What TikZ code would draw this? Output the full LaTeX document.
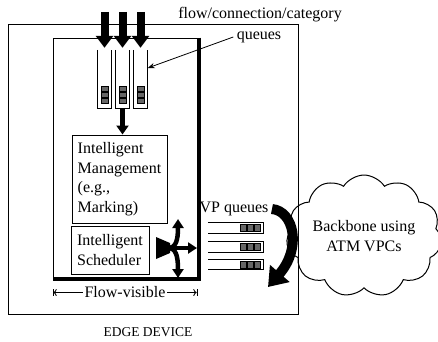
\documentclass[tikz,border=0pt]{standalone}
\usepackage{fontspec}
\setmainfont{Liberation Serif}
\usetikzlibrary{positioning, calc, arrows.meta, shapes.symbols}

\begin{document}
\begin{tikzpicture}[
    x=1pt, y=-1pt,
    every node/.style={font=\fontsize{16}{19.5}\selectfont},
    box/.style={draw=black, line width=1pt},
    textbox/.style={draw=black, line width=1pt, align=left, inner sep=0pt},
    queuecol/.style={minimum width=14pt, minimum height=58pt, inner sep=0pt},
    vpq/.style={minimum width=55pt, minimum height=10pt, inner sep=0pt},
    packet/.style={draw=black, fill=black!60, line width=0.8pt},
    inarrow/.style={line width=8pt, -{Triangle[width=17pt,length=12pt]}},
    smallarrow/.style={line width=5pt, -{Triangle[width=12pt,length=9pt]}},
    forkarrow/.style={line width=4.5pt, -{Triangle[width=11pt,length=9pt]}},
    curlarrow/.style={line width=10pt, -{Triangle[width=25pt,length=18pt]}},
    leader/.style={line width=0.8pt, -{Stealth[length=7pt]}}
]
\useasboundingbox (0,0) rectangle (438,341);

%=== EDGE DEVICE: outer box and flow-visible part ===
\node[box, minimum width=290pt, minimum height=290pt] (device) at (153,169) {};
\node[box, minimum width=144pt, minimum height=239pt] (visible) at (125,157.5) {};
% shadow on the flow-visible box
\draw[line width=3pt] ([xshift=1.5pt]visible.north east) -- ([xshift=1.5pt,yshift=-1.5pt]visible.south east)
    -- ([yshift=-1.5pt]visible.south west);

\node (flowlabel) at (260,15) {flow/connection/category};
\node (queues) at (259,37) {queues};

% per-flow queues, open at the top
\node[queuecol] (colA) at (104.5,79) {};
\node[queuecol] (colB) at (122.5,79) {};
\node[queuecol] (colC) at (140.5,79) {};
\foreach \col in {colA,colB,colC} {
    \draw[box] (\col.north west) -- (\col.south west) -- (\col.south east) -- (\col.north east);
    \foreach \k in {0,1,2}
        \draw[packet] ($(\col.south)+(-3.5,-5-6*\k)$) rectangle ++(7,-5);
    \draw[inarrow] ($(\col.north)+(0,-38)$) -- ($(\col.north)+(0,-2)$);
}
\draw[leader] (queues.west) -- ([yshift=11pt]colC.east);

\node[textbox, minimum width=95pt, minimum height=88pt] (mgmt) at (119.5,179)
    {Intelligent\\Management\\(e.g.,\\Marking)};
\node[textbox, minimum width=78pt, minimum height=48pt] (sched) at (110,250)
    {Intelligent\\Scheduler};
\draw[smallarrow] (colB.south) -- (colB.south |- mgmt.north);

% scheduler fan-out
\coordinate (fork) at (168,248);
\coordinate (forkup) at (178,219);
\coordinate (forkright) at (197,248);
\coordinate (forkdown) at (178,278);
\fill (156,237) .. controls (163,240) .. (170,243) -- (170,253)
    .. controls (163,256) .. (156,259) -- cycle;
\draw[forkarrow] (fork) -- (forkright);
\draw[forkarrow] (fork) .. controls (176,248) and (178,240) .. (forkup);
\draw[forkarrow] (fork) .. controls (176,248) and (178,256) .. (forkdown);

%=== VP queues and backbone ===
\node (vplabel) at (234,209) {VP queues};
\node[vpq] (vq1) at (235.5,228) {};
\node[vpq] (vq2) at (235.5,247) {};
\node[vpq] (vq3) at (235.5,264.5) {};
\foreach \r in {vq1,vq2,vq3} {
    \draw[box] (\r.north west) -- (\r.north east) -- (\r.south east) -- (\r.south west);
    \foreach \k in {0,1,2}
        \draw[packet] ($(\r.east)+(-3-7*\k,-3.5)$) rectangle ++(-6,7);
}

\node[cloud, draw, line width=1pt, cloud puffs=11, cloud puff arc=115, aspect=1.4,
    minimum width=147pt, minimum height=107pt, align=center, inner sep=0pt]
    (backbone) at (364,236) {Backbone using\\ATM VPCs};

\coordinate (curlend) at (268,287);
\draw[curlarrow] (vplabel.east) .. controls (294,211) and (302,248) .. (curlend);

%=== Flow-visible span and caption ===
\coordinate (fvl) at ($(visible.south west)+(0,15)$);
\coordinate (fvr) at ($(visible.south east)+(0,15)$);
\draw[|<->|, line width=0.8pt] (fvl) -- (fvr);
\node[fill=white, inner sep=2pt] (flowvis) at ($(fvl)!0.5!(fvr)$) {Flow-visible};

\node[font=\fontsize{13.5}{16}\selectfont] (edgelabel) at (148,332) {EDGE DEVICE};

\end{tikzpicture}
\end{document}
